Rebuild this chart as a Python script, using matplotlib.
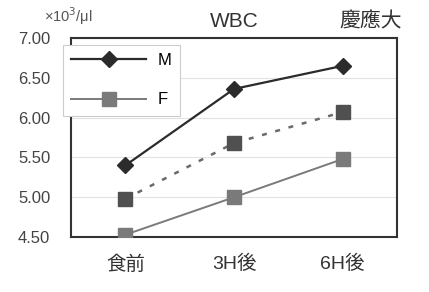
import matplotlib.pyplot as plt

# DATA
categories = ["食前", "3H後", "6H後"]
m_values = [5.40, 6.36, 6.65]
f_values = [4.53, 5.00, 5.48]
mean_values = [4.98, 5.68, 6.07]
y_ticks = [4.50, 5.00, 5.50, 6.00, 6.50, 7.00]

plt.rcParams['font.family'] = ['Liberation Sans', 'Noto Sans CJK JP', 'DejaVu Sans']

fig = plt.figure(figsize=(4.29, 2.92), dpi=100)
ax = fig.add_axes([0.1655, 0.188, 0.76, 0.682])

x = range(len(categories))

# PLOT THE DATA
ax.plot(x, mean_values, color="#6a6a6a", linestyle=(0, (2, 3.5)), linewidth=1.8,
        marker="s", markersize=9.5, markerfacecolor="#505050", markeredgecolor="#505050", zorder=3)
ax.plot(x, m_values, color="#2b2b2b", linewidth=1.6, marker="D", markersize=8,
        markerfacecolor="#2b2b2b", markeredgecolor="#2b2b2b", label="M", zorder=4)
ax.plot(x, f_values, color="#7a7a7a", linewidth=1.4, marker="s", markersize=9.5,
        markerfacecolor="#7a7a7a", markeredgecolor="#7a7a7a", label="F", zorder=4)

# AXES
ax.set_xlim(-0.5, 2.5)
ax.set_ylim(4.5, 7.0)
ax.set_yticks(y_ticks)
ax.set_yticklabels([f"{v:.2f}" for v in y_ticks], fontsize=12, color="#444444")
ax.set_xticks(list(x))
ax.set_xticklabels(categories, fontsize=14, color="#333333")
ax.tick_params(axis="y", length=0, pad=15)
ax.tick_params(axis="x", length=0, pad=13)
ax.grid(axis="y", color="#e2e2e2", linewidth=0.8)
ax.set_axisbelow(True)
for s in ax.spines.values():
    s.set_linewidth(1.5)
    s.set_color("#333333")

# TEXTS
fig.text(0.103, 0.945, "×10$^3$/μl", fontsize=10.5, color="#555555", va="center")
ax.set_title("WBC", fontsize=15, color="#333333", pad=8)
fig.text(0.79, 0.925, "慶應大", fontsize=15, color="#333333", va="center")

# LEGEND
leg = ax.legend(loc="upper left", bbox_to_anchor=(-0.025, 0.965), borderaxespad=0,
                fontsize=12, handlelength=4.5, handletextpad=0.7, labelspacing=1.45,
                fancybox=False, framealpha=1, edgecolor="#cccccc", borderpad=0.5)
leg.get_frame().set_linewidth(0.8)
leg.set_zorder(5)

plt.savefig("out.png", dpi=100)
